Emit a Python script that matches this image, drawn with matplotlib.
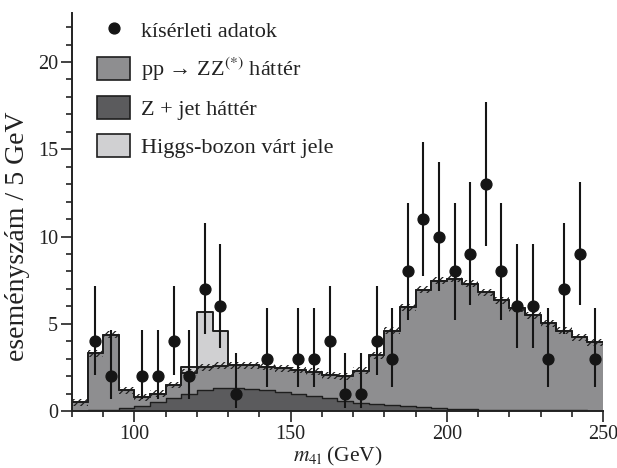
import numpy as np
import matplotlib
matplotlib.use("Agg")
import matplotlib.pyplot as plt
from matplotlib.patches import Patch
from matplotlib.lines import Line2D

plt.rcParams['font.family'] = ['Liberation Serif', 'DejaVu Serif']
plt.rcParams['mathtext.fontset'] = 'stix'
plt.rcParams['hatch.linewidth'] = 0.9
plt.rcParams['hatch.color'] = '#222222'

# 5 GeV bins, lower edges 80 ... 245
bin_lo = list(range(80, 250, 5))

# Z + jet background
zjet = [0.02, 0.03, 0.08, 0.15, 0.30, 0.50, 0.72, 0.98, 1.20, 1.32,
        1.30, 1.26, 1.20, 1.11, 0.98, 0.86, 0.73, 0.59, 0.48, 0.40,
        0.34, 0.28, 0.21, 0.17, 0.13, 0.10, 0.08, 0.07, 0.06, 0.05,
        0.04, 0.03, 0.03, 0.02]
# pp -> ZZ(*) background
zz = [0.48, 3.27, 4.29, 1.05, 0.50, 0.50, 0.77, 1.22, 1.30, 1.28,
      1.32, 1.36, 1.35, 1.34, 1.37, 1.39, 1.32, 1.39, 1.82, 2.80,
      4.26, 5.67, 6.74, 7.30, 7.44, 7.18, 6.72, 6.27, 5.84, 5.43,
      5.00, 4.57, 4.21, 3.91]
# expected Higgs signal
higgs = [0, 0, 0, 0, 0, 0, 0, 0.30, 3.17, 1.96,
         0, 0, 0, 0, 0, 0, 0, 0, 0, 0,
         0, 0, 0, 0, 0, 0, 0, 0, 0, 0,
         0, 0, 0, 0]
band = 0.2  # half height of hatched uncertainty band

# measured data
data_x = [87.5, 92.5, 102.5, 107.5, 112.5, 117.5, 122.5, 127.5, 132.5, 142.5,
          152.5, 157.5, 162.5, 167.5, 172.5, 177.5, 182.5, 187.5, 192.5, 197.5,
          202.5, 207.5, 212.5, 217.5, 222.5, 227.5, 232.5, 237.5, 242.5, 247.5]
data_n = [4, 2, 2, 2, 4, 2, 7, 6, 1, 3,
          3, 3, 4, 1, 1, 4, 3, 8, 11, 10,
          8, 9, 13, 8, 6, 6, 3, 7, 9, 3]
# lower / upper ends of the error bars
lo_tab = {1: 0.17, 2: 0.71, 3: 1.37, 4: 2.09, 6: 3.62, 7: 4.42, 8: 5.23,
          9: 6.06, 10: 6.89, 11: 7.73, 13: 9.44}
hi_tab = {1: 3.30, 2: 4.64, 3: 5.92, 4: 7.16, 6: 9.58, 7: 10.77, 8: 11.95,
          9: 13.11, 10: 14.27, 11: 15.42, 13: 17.69}

c_zz = '#8e8e90'
c_zj = '#5b5b5d'
c_h = '#d0d0d2'
c_ln = '#1e1e1e'
c_txt = '#222222'


def step_xy(vals):
    xs = bin_lo + [250]
    return xs, list(vals) + [vals[-1]]


def main():
    fig = plt.figure(figsize=(6.17, 4.68), dpi=100)
    ax = fig.add_axes([0.1167, 0.1218, 0.8606, 0.85])

    zj = np.array(zjet)
    bkg = zj + np.array(zz)
    tot = bkg + np.array(higgs)

    xs, y = step_xy(tot)
    ax.fill_between(xs, 0, y, step='post', color=c_h, lw=0)
    ax.step(xs, y, where='post', color=c_ln, lw=1.4)
    xs, y = step_xy(bkg)
    ax.fill_between(xs, 0, y, step='post', color=c_zz, lw=0)
    ax.step(xs, y, where='post', color=c_ln, lw=1.4)
    xs, y = step_xy(zj)
    ax.fill_between(xs, 0, y, step='post', color=c_zj, lw=0)
    ax.step(xs, y, where='post', color=c_ln, lw=1.0)
    ax.vlines(80, 0, bkg[0], color=c_ln, lw=1.4)

    xs, y = step_xy(bkg)
    ax.fill_between(xs, np.array(y) - band, np.array(y) + band, step='post',
                    facecolor='none', edgecolor=c_ln, lw=0, hatch='/////')

    lo = [n - lo_tab[n] for n in data_n]
    hi = [hi_tab[n] - n for n in data_n]
    ax.errorbar(data_x, data_n, yerr=[lo, hi], fmt='o', color='#151515',
                ms=7.8, elinewidth=1.5, capsize=0, zorder=5)

    ax.set_xlim(80, 250)
    ax.set_ylim(0, 22.8)
    ax.set_xticks([100, 150, 200, 250])
    ax.set_xticks(range(80, 251, 10), minor=True)
    ax.set_yticks([0, 5, 10, 15, 20])
    ax.set_yticks(range(0, 23), minor=True)
    ax.tick_params(which='major', length=8, width=1.2, labelsize=14.5,
                   colors=c_txt, pad=2)
    ax.tick_params(which='minor', length=4, width=1.2, colors=c_txt)
    for s in ['top', 'right']:
        ax.spines[s].set_visible(False)
    for s in ['left', 'bottom']:
        ax.spines[s].set_linewidth(1.4)
        ax.spines[s].set_color(c_txt)

    ax.set_xlabel(r'$m_{\mathrm{4l}}$ (GeV)', fontsize=15.5, color=c_txt,
                  labelpad=1)
    ax.set_ylabel('eseményszám / 5 GeV', fontsize=20, color=c_txt)
    ax.yaxis.set_label_coords(-0.08, 0.44)

    handles = [
        Line2D([], [], ls='none', marker='o', ms=7.8, color='#151515'),
        Patch(facecolor=c_zz, edgecolor=c_ln, lw=1.2),
        Patch(facecolor=c_zj, edgecolor=c_ln, lw=1.2),
        Patch(facecolor=c_h, edgecolor=c_ln, lw=1.2),
    ]
    labels = ['kísérleti adatok', r'pp → ZZ$^{(*)}$ háttér',
              'Z + jet háttér', 'Higgs-bozon várt jele']
    ax.legend(handles, labels, loc='upper left', frameon=False,
              bbox_to_anchor=(97 / 617, 450 / 468),
              bbox_transform=fig.transFigure, borderpad=0, borderaxespad=0,
              handlelength=1.49, handleheight=1.22, handletextpad=0.5,
              labelspacing=0.6, fontsize=16, labelcolor=c_txt)

    fig.savefig('out.png', dpi=100)


if __name__ == "__main__":
    main()
